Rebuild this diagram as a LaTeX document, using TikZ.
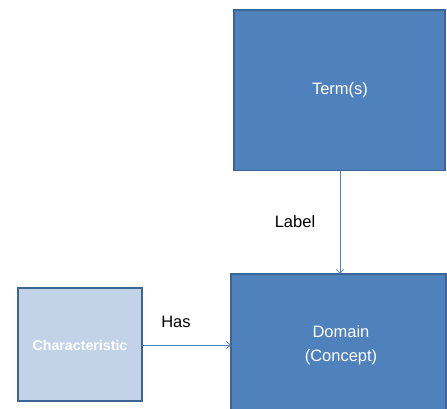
\documentclass[tikz,border=0pt]{standalone}
\usepackage{fontspec}
\setmainfont{Liberation Sans}
\usetikzlibrary{arrows.meta}
\definecolor{boxblue}{HTML}{4F81BD}
\definecolor{boxedge}{HTML}{3C6494}
\definecolor{lightblue}{HTML}{C2D3E8}
\begin{document}
\begin{tikzpicture}[x=1pt, y=-1pt, every node/.style={font=\fontsize{16.5}{24}\selectfont},
    bigbox/.style={draw=boxedge, line width=1.2pt, fill=boxblue},
    smallbox/.style={draw=boxedge, line width=1.2pt, fill=lightblue},
    link/.style={draw=boxblue, line width=0.8pt, -{Straight Barb[length=4pt, width=7pt]}}]
    \useasboundingbox (0,0) rectangle (447,408);
    \clip (0,0) rectangle (447,408);
    % Boxes
    \draw[bigbox] (234,10) rectangle (445,170.5);
    \node[text=white] (term) at (340,90) {Term(s)};
    \draw[bigbox] (231,274) rectangle (446,420);
    \node[text=white, align=center] (domain) at (341,345) {Domain\\(Concept)};
    \draw[smallbox] (18,288) rectangle (142,401);
    \node[text=white, font=\fontsize{14.2}{16}\selectfont\bfseries] (char) at (80,345) {Characteristic};
    \coordinate (termbot) at (340,170.5);
    \coordinate (domtop) at (340,274);
    \coordinate (charright) at (142,345);
    \coordinate (domleft) at (231,345);
    % Connectors
    \draw[link] (termbot) -- (domtop);
    \draw[link] (charright) -- (domleft);
    \node (label) at (295,222) {Label};
    \node (has) at (176,322) {Has};
\end{tikzpicture}
\end{document}
